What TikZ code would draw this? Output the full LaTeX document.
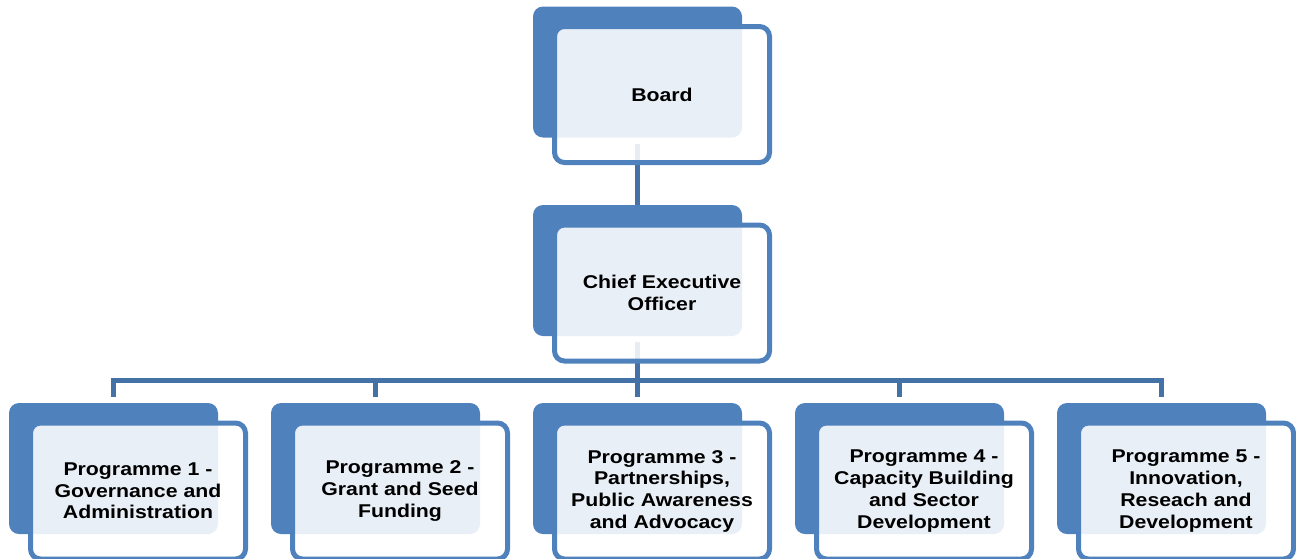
\documentclass[tikz,border=0pt]{standalone}
\usepackage{fontspec}
\setmainfont[FakeStretch=1.15]{Liberation Sans}
\usetikzlibrary{calc}
\definecolor{boxblue}{RGB}{79,129,189}
\definecolor{linkblue}{RGB}{68,114,166}

\begin{document}
\begin{tikzpicture}[x=1pt,y=-1pt,
    backbox/.style={fill=boxblue,rounded corners=10pt,minimum width=209pt,minimum height=131pt,inner sep=0pt},
    frontbox/.style={draw=boxblue,line width=5pt,fill=white,fill opacity=0.88,text opacity=1,
      rounded corners=10pt,minimum width=215pt,minimum height=136pt,inner sep=0pt,align=center,
      font=\fontsize{18.5}{21.7}\selectfont\bfseries},
    link/.style={draw=linkblue,line width=5pt,shorten <=6pt}]
    \clip (0,0) rectangle (1296,558);
    \coordinate (d) at (24.5,22.5);
    % back boxes
    \node[backbox] (bboard) at (637.5,72) {};
    \node[backbox] (bceo) at (637.5,270.5) {};
    \node[backbox] (bp1) at (113.5,468.5) {};
    \node[backbox] (bp2) at (375.5,468.5) {};
    \node[backbox] (bp3) at (637.5,468.5) {};
    \node[backbox] (bp4) at (899.5,468.5) {};
    \node[backbox] (bp5) at (1161.5,468.5) {};
    % connectors
    \draw[link] (bboard.south) -- (bceo.north);
    \draw[link,shorten >=6pt] (bceo.south) -- ++(0,44) -| (bp1.north);
    \draw[link,shorten >=6pt] (bceo.south) -- ++(0,44) -| (bp2.north);
    \draw[link,shorten >=6pt] (bceo.south) -- ++(0,44) -| (bp3.north);
    \draw[link,shorten >=6pt] (bceo.south) -- ++(0,44) -| (bp4.north);
    \draw[link,shorten >=6pt] (bceo.south) -- ++(0,44) -| (bp5.north);
    % front boxes
    \node[frontbox] (board) at ($(bboard)+(d)$) {Board};
    \node[frontbox] (ceo) at ($(bceo)+(d)$) {Chief Executive\\Officer};
    \node[frontbox] (p1) at ($(bp1)+(d)$) {Programme 1 -\\Governance and\\Administration};
    \node[frontbox] (p2) at ($(bp2)+(d)$) {Programme 2 -\\Grant and Seed\\Funding};
    \node[frontbox] (p3) at ($(bp3)+(d)$) {Programme 3 -\\Partnerships,\\Public Awareness\\and Advocacy};
    \node[frontbox] (p4) at ($(bp4)+(d)$) {Programme 4 -\\Capacity Building\\and Sector\\Development};
    \node[frontbox] (p5) at ($(bp5)+(d)$) {Programme 5 -\\Innovation,\\Reseach and\\Development};
\end{tikzpicture}
\end{document}
